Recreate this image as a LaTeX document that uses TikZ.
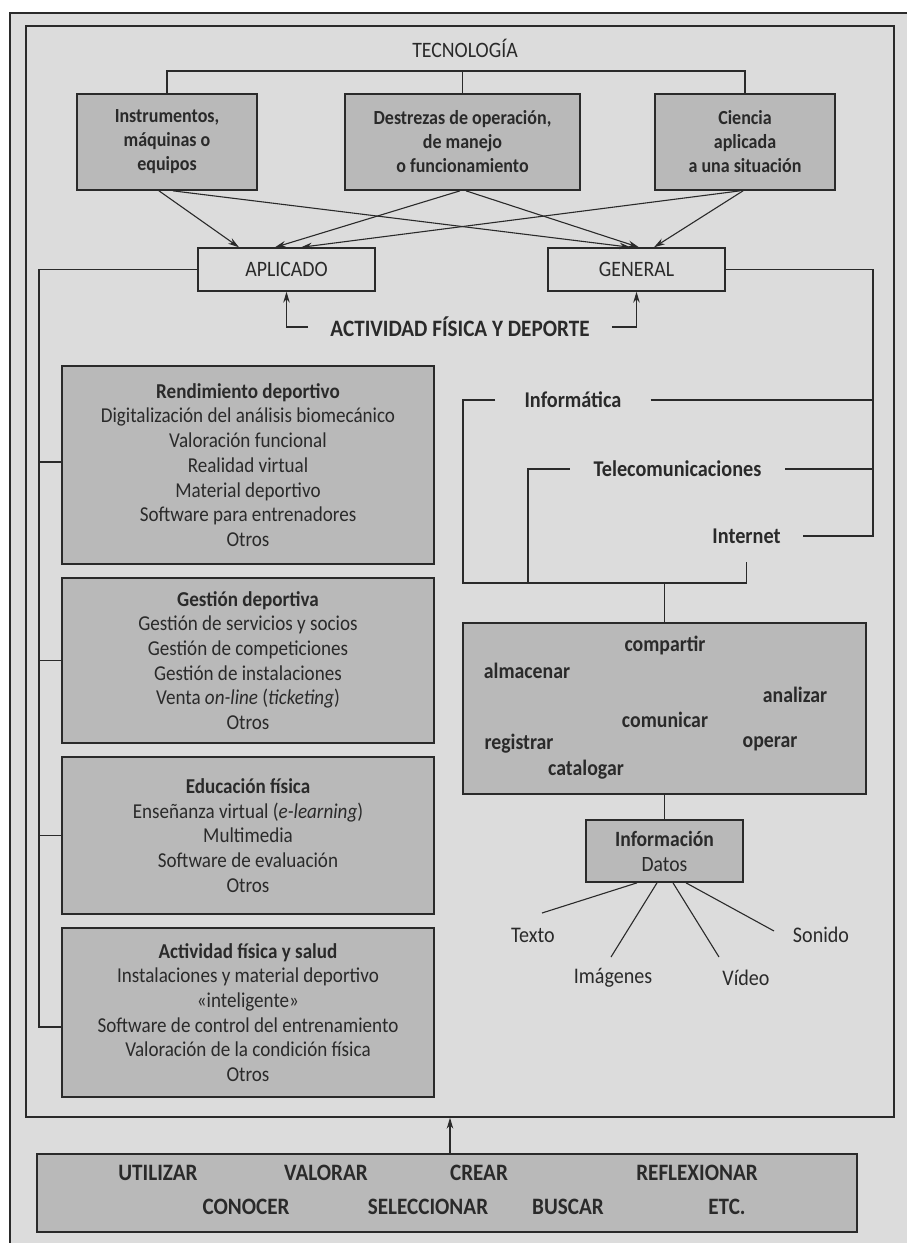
\documentclass[tikz,border=0pt]{standalone}
\usepackage{fontspec}
\setmainfont{Carlito}[FakeStretch=0.9]
\usetikzlibrary{arrows.meta}
\definecolor{bg}{HTML}{DCDCDC}
\definecolor{boxfill}{HTML}{B9B9B9}
\definecolor{ink}{HTML}{2A2A2A}
\newcommand\fsTop{\fontsize{20}{24}\selectfont\bfseries}
\newcommand\fsList{\fontsize{21.2}{24.7}\selectfont}
\newcommand\fsInfo{\fontsize{21.8}{25}\selectfont}
\newcommand\fsCaps{\fontsize{22}{24}\selectfont}
\newcommand\fsCapsB{\fontsize{23.5}{26}\selectfont\bfseries}
\newcommand\fsLbl{\fontsize{22.5}{24}\selectfont\bfseries}
\newcommand\fsWord{\fontsize{22}{24}\selectfont\bfseries}
\newcommand\fsLeaf{\fontsize{22.3}{24}\selectfont}
\begin{document}
\begin{tikzpicture}[x=1pt,y=-1pt,
  every node/.style={text=ink, inner sep=0pt},
  conn/.style={draw=ink, line width=1.1pt},
  arr/.style={conn, -{Stealth[length=11pt,width=6.5pt]}},
  graybox/.style={draw=ink, line width=1.7pt, fill=boxfill, align=center},
  topbox/.style={graybox, font=\fsTop, minimum height=96pt},
  listbox/.style={graybox, font=\fsList, minimum width=372pt},
  plainbox/.style={draw=ink, line width=1.4pt, font=\fsCaps, minimum width=177pt, minimum height=43pt},
  caps/.style={font=\fsCaps},
  capsb/.style={font=\fsCapsB},
  lbl/.style={font=\fsLbl},
  word/.style={font=\fsWord},
  leaf/.style={font=\fsLeaf}
]
\useasboundingbox (0,0) rectangle (907,1243);
% page and outer frame
\fill[white] (0,0) rectangle (907,1243);
\fill[bg] (10,13) rectangle (907,1243);
\draw[ink, line width=1.3pt] (10,1243) -- (10,13) -- (907,13);
% inner frame
\node[draw=ink, line width=1.4pt, minimum width=868pt, minimum height=1091pt] (inner) at (460,571.5) {};

% title and the three components
\node[caps] (tec) at (465,48) {TECNOLOGÍA};
\node[topbox, minimum width=180pt] (b1) at (167,142) {Instrumentos,\\máquinas o\\equipos};
\node[topbox, minimum width=235pt] (b2) at (462.5,142) {Destrezas de operación,\\de manejo\\o funcionamiento};
\node[topbox, minimum width=180pt] (b3) at (745,142) {Ciencia\\aplicada\\a una situación};
\coordinate (br) at (462.5,71);
\draw[conn] (b1.north) -- (b1.north |- br) -- (b3.north |- br) -- (b3.north);
\draw[conn] (br) -- (b2.north);

% applied / general
\node[plainbox] (apl) at (286.5,269.5) {APLICADO};
\node[plainbox] (gen) at (636.5,269.5) {GENERAL};
\draw[arr] ([xshift=-8pt]b1.south) -- ([xshift=-47.5pt]apl.north);
\draw[arr] ([xshift=6pt]b1.south) -- ([xshift=-6pt]gen.north);
\draw[arr] ([xshift=-2.5pt]b2.south) -- ([xshift=-11.5pt]apl.north);
\draw[arr] ([xshift=3.5pt]b2.south) -- ([xshift=2.5pt]gen.north);
\draw[arr] ([xshift=-5pt]b3.south) -- ([xshift=14.5pt]apl.north);
\draw[arr] ([xshift=-2pt]b3.south) -- ([xshift=17.5pt]gen.north);

\node[capsb, inner xsep=22pt] (afd) at (460,327) {ACTIVIDAD FÍSICA Y DEPORTE};
\draw[arr] (afd.west) -| (apl.south);
\draw[arr] (afd.east) -| (gen.south);

% application areas
\node[listbox, minimum height=198pt] (rend) at (248,465) {\textbf{Rendimiento deportivo}\\Digitalización del análisis biomecánico\\Valoración funcional\\Realidad virtual\\Material deportivo\\Software para entrenadores\\Otros};
\node[listbox, minimum height=165pt] (gest) at (248,660.5) {\textbf{Gestión deportiva}\\Gestión de servicios y socios\\Gestión de competiciones\\Gestión de instalaciones\\Venta \textit{on-line} (\textit{ticketing})\\Otros};
\node[listbox, minimum height=157pt] (edu) at (248,835.5) {\textbf{Educación física}\\Enseñanza virtual (\textit{e-learning})\\Multimedia\\Software de evaluación\\Otros};
\node[listbox, minimum height=169pt] (act) at (248,1012.5) {\textbf{Actividad física y salud}\\Instalaciones y material deportivo\\«inteligente»\\Software de control del entrenamiento\\Valoración de la condición física\\Otros};
\coordinate (busL) at (39,1027);
\draw[conn] (apl.west) -| (busL) -- ([yshift=-14.5pt]act.west);
\draw[conn] ([yshift=3pt]rend.west) -- ([yshift=3pt]rend.west -| busL);
\draw[conn] (gest.west) -- (gest.west -| busL);
\draw[conn] (edu.west) -- (edu.west -| busL);

% general branch
\node[lbl, inner xsep=29pt] (infor) at (573,400) {Informática};
\node[lbl, inner xsep=23.5pt] (tele) at (677.5,469) {Telecomunicaciones};
\node[lbl, inner xsep=22pt] (inet) at (746.5,536) {Internet};
\coordinate (rc) at (873,536);
\coordinate (lb) at (463,583);
\coordinate (tb) at (528,583);
\draw[conn] (gen.east) -| (rc) -- (inet.east);
\draw[conn] (infor.east) -- (infor.east -| rc);
\draw[conn] (tele.east) -- (tele.east -| rc);
\draw[conn] (infor.west) -| (lb) -- (lb -| inet.center) -- ([yshift=-26pt]inet.center);
\draw[conn] (tele.west) -| (tb);

% processing box
\node[graybox, minimum width=403pt, minimum height=171pt] (proc) at (664.5,708.5) {};
\draw[conn] (proc.north |- lb) -- (proc.north);
\node[word] (w1) at (665,645) {compartir};
\node[word] (w2) at (527,671) {almacenar};
\node[word] (w3) at (795,695) {analizar};
\node[word] (w4) at (665,720) {comunicar};
\node[word] (w5) at (519,744) {registrar};
\node[word] (w6) at (770,744) {operar};
\node[word] (w7) at (586,770) {catalogar};

% information
\node[graybox, font=\fsInfo, minimum width=157pt, minimum height=62pt] (info) at (664.5,851) {\textbf{Información}\\Datos};
\draw[conn] (proc.south) -- (info.north);
\node[leaf] (texto) at (533,935) {Texto};
\node[leaf] (imag) at (613,978) {Imágenes};
\node[leaf] (video) at (746,978) {Vídeo};
\node[leaf] (sonido) at (821,935) {Sonido};
\coordinate (eT) at (542,913);
\coordinate (eI) at (611,957);
\coordinate (eV) at (719,957);
\coordinate (eS) at (774,931);
\draw[conn] ([xshift=-27.5pt]info.south) -- (eT);
\draw[conn] ([xshift=-7.5pt]info.south) -- (eI);
\draw[conn] ([xshift=8.5pt]info.south) -- (eV);
\draw[conn] ([xshift=21.5pt]info.south) -- (eS);

% actions
\node[graybox, minimum width=820pt, minimum height=78pt] (acts) at (447,1193) {};
\draw[arr] ([xshift=3pt]acts.north) -- ([xshift=3pt]acts.north |- inner.south);
\node[capsb] at (158,1173) {UTILIZAR};
\node[capsb] at (326,1173) {VALORAR};
\node[capsb] at (479,1173) {CREAR};
\node[capsb] at (697,1173) {REFLEXIONAR};
\node[capsb] at (246,1207) {CONOCER};
\node[capsb] at (428,1207) {SELECCIONAR};
\node[capsb] at (568,1207) {BUSCAR};
\node[capsb] at (727,1207) {ETC.};
\end{tikzpicture}
\end{document}
